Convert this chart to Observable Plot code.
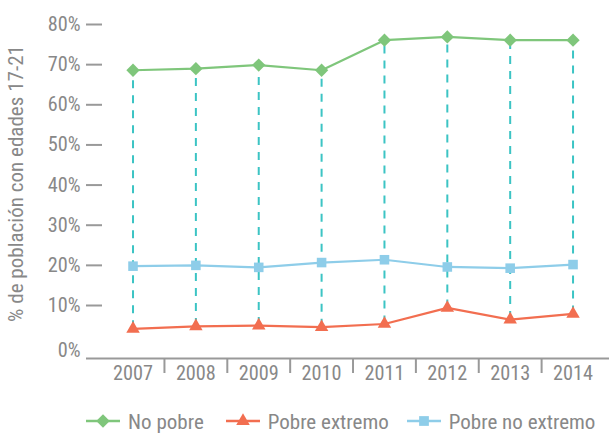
<!DOCTYPE html>
<html><head><meta charset="utf-8">
<script src="https://cdn.jsdelivr.net/npm/d3@7"></script>
<script src="https://cdn.jsdelivr.net/npm/@observablehq/plot@0.6"></script>
<style>
body{margin:0;background:#fff;}
#legend{display:flex;align-items:center;height:26px;margin-top:13px;padding-left:86px;color:#888;white-space:nowrap;}
.item{display:flex;align-items:center;}
.item svg{margin-right:8px;}
</style></head><body>
<div id="chart"></div>
<div id="legend"></div>
<script>
const years = [2007, 2008, 2009, 2010, 2011, 2012, 2013, 2014];
const noPobre = [68.6, 69.0, 69.9, 68.6, 76.1, 76.9, 76.1, 76.1];
const pobreExtremo = [4.2, 4.8, 5.0, 4.6, 5.4, 9.4, 6.5, 7.9];
const pobreNoExtremo = [19.8, 20.0, 19.5, 20.7, 21.4, 19.6, 19.3, 20.2];
const seriesNames = ["No pobre", "Pobre extremo", "Pobre no extremo"];
const seriesColors = ["#7fc67b", "#f26e50", "#8ecde9"];
const seriesSymbols = ["diamond2", "triangle", "square"];
const yTicks = [10, 20, 30, 40, 50, 60, 70, 80];
const yTitle = "% de población con edades 17-21";

// pick an installed narrow font
const cv = document.createElement("canvas").getContext("2d");
function w(fam, s) { cv.font = `100px ${fam}`; return cv.measureText(s).width; }
const probe = "Pobre no extremo 2007";
const cands = ["Roboto Condensed", "Liberation Sans Narrow", "DejaVu Sans Condensed", "Arial Narrow", "Roboto"];
let fam = "Roboto";
for (const c of cands) {
  const a = w(`"${c}", monospace`, probe), b = w("monospace", probe);
  const a2 = w(`"${c}", serif`, probe), b2 = w("serif", probe);
  if (Math.abs(a - b) > 0.5 && Math.abs(a2 - b2) > 0.5) { fam = c; break; }
}
const font = `"${fam}", Roboto, sans-serif`;
function fit(s, px) { return px * 100 / w(font, s); }
const tickSize = Math.min(fit("2007", 40), fit("80%", 37.7));
const legendSize = fit("Pobre no extremo", 146.7);
const titleSize = fit(yTitle, 277);

const seriesValues = [noPobre, pobreExtremo, pobreNoExtremo];
const markerR = {"No pobre": 6, "Pobre extremo": 5, "Pobre no extremo": 5.4};
const rows = seriesNames.flatMap((s, i) => years.map((y, j) => ({series: s, year: y, value: seriesValues[i][j]})));
const spans = years.map((y, j) => ({year: y, lo: d3.min(seriesValues, v => v[j]), hi: d3.max(seriesValues, v => v[j])}));
const boundaries = years.slice(1).map(y => y - 0.5);
const yMin = -3.2;
const gray = "#999";
const txt = "#888";

const plot = Plot.plot({
  width: 609, height: 395,
  marginLeft: 86, marginRight: 0, marginTop: 24, marginBottom: 37,
  style: {fontFamily: font, fontSize: tickSize + "px", color: txt, background: "#fff"},
  x: {type: "linear", domain: [2006.26, 2014.58], axis: null},
  y: {domain: [yMin, 80], axis: null},
  r: {type: "identity"},
  color: {domain: seriesNames, range: seriesColors},
  symbol: {domain: seriesNames, range: seriesSymbols},
  marks: [
    Plot.axisY({ticks: yTicks, tickSize: -16, strokeWidth: 2, stroke: gray, text: null, label: null}),
    Plot.axisY({ticks: yTicks, tickSize: 0, tickPadding: 6, tickFormat: d => d + "%", fill: txt, label: null}),
    Plot.axisY({ticks: [0], tickSize: 0, tickPadding: 6, dy: 5, tickFormat: d => d + "%", fill: txt, label: null}),
    Plot.ruleY([yMin], {stroke: gray, strokeWidth: 2}),
    Plot.axisX({ticks: boundaries, tickSize: 15, strokeWidth: 2, stroke: gray, text: null, label: null}),
    Plot.axisX({ticks: years, tickSize: 0, tickPadding: 7, tickFormat: d => String(d), fill: txt, label: null}),
    Plot.text([yTitle], {text: d => d, frameAnchor: "left", textAnchor: "middle", rotate: -90, dx: -70, dy: -8, fill: txt, fontSize: titleSize}),
    Plot.ruleX(spans, {x: "year", y1: "lo", y2: "hi", stroke: "#3cc4c4", strokeWidth: 2, strokeDasharray: "8,7"}),
    Plot.line(rows, {x: "year", y: "value", z: "series", stroke: "series", strokeWidth: 2.2}),
    Plot.dot(rows, {x: "year", y: "value", symbol: "series", fill: "series", r: d => markerR[d.series]})
  ]
});
document.getElementById("chart").appendChild(plot);

const legend = document.getElementById("legend");
legend.style.fontFamily = font;
legend.style.fontSize = legendSize + "px";
const symMap = {diamond2: d3.symbolDiamond2, triangle: d3.symbolTriangle, square: d3.symbolSquare};
const sizes = [115, 80, 95];
const gaps = [22, 18, 0];
seriesNames.forEach((name, i) => {
  const item = document.createElement("div");
  item.className = "item";
  item.style.marginRight = gaps[i] + "px";
  const svg = d3.create("svg").attr("width", 34).attr("height", 24);
  svg.append("line").attr("x1", 0).attr("x2", 34).attr("y1", 12).attr("y2", 12).attr("stroke", seriesColors[i]).attr("stroke-width", 2.5);
  svg.append("path").attr("d", d3.symbol(symMap[seriesSymbols[i]], sizes[i])()).attr("transform", "translate(17,12)").attr("fill", seriesColors[i]);
  item.appendChild(svg.node());
  const span = document.createElement("span");
  span.textContent = name;
  item.appendChild(span);
  legend.appendChild(item);
});
</script></body></html>
